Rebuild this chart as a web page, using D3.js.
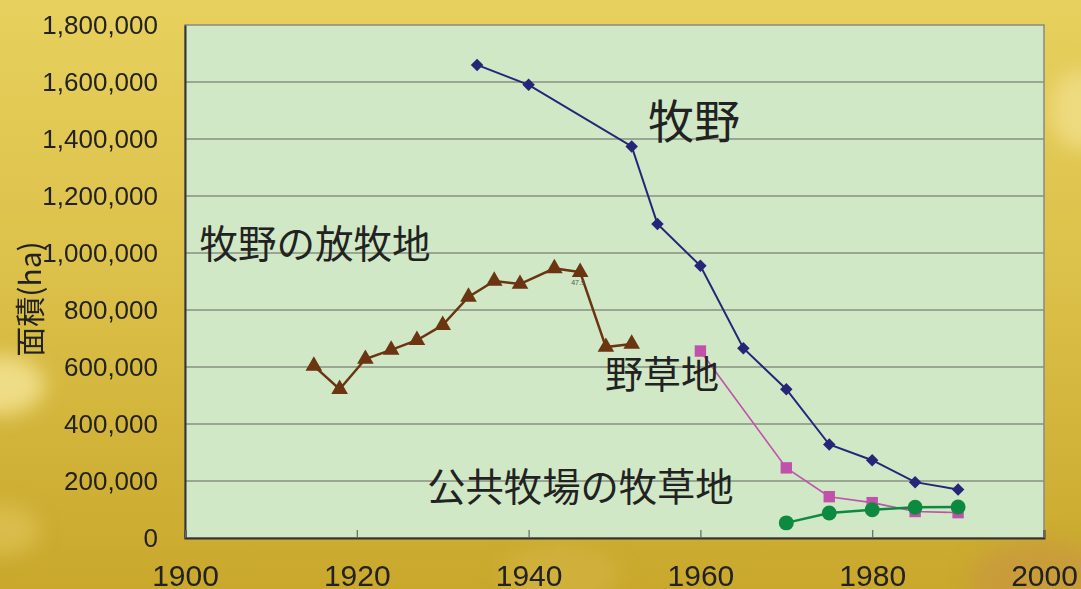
<!DOCTYPE html>
<html><head><meta charset="utf-8">
<script src="https://cdn.jsdelivr.net/npm/d3@7"></script>
<style>html,body{margin:0;padding:0;overflow:hidden;background:#d9bd45;}svg{display:block;}</style>
</head><body>
<script>
// ---- data ----
const yearsMakino = [1934, 1940, 1952, 1955, 1960, 1965, 1970, 1975, 1980, 1985, 1990];
const makino = [1660000, 1590000, 1374000, 1102000, 955000, 666000, 522000, 328000, 273000, 196000, 170000];
const yearsHoboku = [1915, 1918, 1921, 1924, 1927, 1930, 1933, 1936, 1939, 1943, 1946, 1949, 1952];
const hoboku = [604000, 522000, 628000, 660000, 694000, 747000, 846000, 902000, 891000, 946000, 933000, 670000, 681000];
const yearsYaso = [1960, 1970, 1975, 1980, 1985, 1990];
const yaso = [656000, 246000, 145000, 124000, 93000, 89000];
const yearsKokyo = [1970, 1975, 1980, 1985, 1990];
const kokyo = [53000, 88000, 99000, 108000, 109000];
const xTicks = [1900, 1920, 1940, 1960, 1980, 2000];
const yTicks = [0, 200000, 400000, 600000, 800000, 1000000, 1200000, 1400000, 1600000, 1800000];
const labels = [
  {text: "牧野", year: 1953.9, value: 1473000, size: 46},
  {text: "牧野の放牧地", year: 1901.7, value: 1043000, size: 38.5},
  {text: "野草地", year: 1948.9, value: 583000, size: 38},
  {text: "公共牧場の牧草地", year: 1928.2, value: 186000, size: 38.3}
];
const note = {text: "47.9", year: 1945.75, value: 888000};

// ---- layout ----
const W = 1081, H = 589;
const L = 185, R = 1044, T = 25, B = 538;
const svg = d3.select("body").append("svg").attr("width", W).attr("height", H);
const defs = svg.append("defs");
const g1 = defs.append("linearGradient").attr("id", "bg").attr("x1", 0).attr("y1", 0).attr("x2", 0).attr("y2", 1);
g1.append("stop").attr("offset", 0).attr("stop-color", "#e7d05d");
g1.append("stop").attr("offset", 0.45).attr("stop-color", "#dcc14a");
g1.append("stop").attr("offset", 1).attr("stop-color", "#c9a82c");
defs.append("filter").attr("id", "blur").append("feGaussianBlur").attr("stdDeviation", 10);

svg.append("rect").attr("width", W).attr("height", H).attr("fill", "url(#bg)");
const blobs = svg.append("g").attr("filter", "url(#blur)");
blobs.append("ellipse").attr("cx", 0).attr("cy", 385).attr("rx", 45).attr("ry", 30).attr("fill", "#f2e08e").attr("opacity", 0.9);
blobs.append("ellipse").attr("cx", 0).attr("cy", 530).attr("rx", 40).attr("ry", 25).attr("fill", "#dcc053").attr("opacity", 0.8);
blobs.append("ellipse").attr("cx", 1080).attr("cy", 110).attr("rx", 30).attr("ry", 40).attr("fill", "#f0dc84").attr("opacity", 0.9);
blobs.append("ellipse").attr("cx", 1040).attr("cy", 580).attr("rx", 70).attr("ry", 40).attr("fill", "#c9973f").attr("opacity", 0.7);
blobs.append("ellipse").attr("cx", 560).attr("cy", 575).attr("rx", 60).attr("ry", 30).attr("fill", "#d4b646").attr("opacity", 0.6);

const x = d3.scaleLinear().domain([1900, 2000]).range([L, R]);
const y = d3.scaleLinear().domain([0, 1800000]).range([B, T]);

// plot area
svg.append("rect").attr("x", L).attr("y", T).attr("width", R - L).attr("height", B - T)
  .attr("fill", "#d0e8c6").attr("stroke", "#8a8a80").attr("stroke-width", 1.5);

// gridlines
svg.append("g").selectAll("line").data(yTicks.filter(d => d > 0 && d < 1800000)).join("line")
  .attr("x1", L).attr("x2", R).attr("y1", d => y(d)).attr("y2", d => y(d))
  .attr("stroke", "#879080").attr("stroke-width", 1.5);

// y axis
const yAxis = svg.append("g").attr("transform", `translate(${L},0)`)
  .call(d3.axisLeft(y).tickValues(yTicks).tickSize(0).tickPadding(27).tickFormat(d3.format(",")));
yAxis.select(".domain").attr("stroke", "#333").attr("stroke-width", 2);
yAxis.selectAll("text").attr("font-family", "Liberation Sans, Arial, sans-serif").attr("font-size", 26).attr("fill", "#222");

// x axis
const xAxis = svg.append("g").attr("transform", `translate(0,${B})`)
  .call(d3.axisBottom(x).tickValues(xTicks).tickSize(-8).tickPadding(27).tickFormat(d3.format("d")));
xAxis.select(".domain").attr("stroke", "#333").attr("stroke-width", 2);
xAxis.selectAll(".tick line").attr("stroke", "#666").attr("stroke-width", 1.2);
xAxis.selectAll("text").attr("font-family", "Liberation Sans, Arial, sans-serif").attr("font-size", 30).attr("fill", "#222");

// y axis title
svg.append("text").attr("transform", "translate(28,299) rotate(-90)")
  .attr("text-anchor", "middle").attr("dominant-baseline", "central")
  .attr("font-family", "Noto Sans CJK JP, sans-serif").attr("font-size", 30).attr("fill", "#222")
  .text("面積(ha)");

// series
function series(years, vals, color, width, sym, size, rot) {
  const pts = years.map((yr, i) => [yr, vals[i]]);
  const line = d3.line().x(d => x(d[0])).y(d => y(d[1]));
  svg.append("path").datum(pts).attr("d", line).attr("fill", "none")
    .attr("stroke", color).attr("stroke-width", width);
  svg.append("g").selectAll("path").data(pts).join("path")
    .attr("transform", d => `translate(${x(d[0])},${y(d[1])}) rotate(${rot})`)
    .attr("d", d3.symbol().type(sym).size(size)).attr("fill", color);
}
series(yearsHoboku, hoboku, "#6a3510", 2.5, d3.symbolTriangle, 120, 0);
series(yearsYaso, yaso, "#c052aa", 1.6, d3.symbolSquare, 130, 0);
series(yearsMakino, makino, "#262678", 2, d3.symbolSquare, 78, 45);
series(yearsKokyo, kokyo, "#0e8a40", 2.5, d3.symbolCircle, 175, 0);

// small note
svg.append("text").attr("x", x(note.year)).attr("y", y(note.value))
  .attr("text-anchor", "middle").attr("font-family", "Liberation Sans, Arial, sans-serif")
  .attr("font-size", 7).attr("fill", "#555").text(note.text);

// annotations
svg.append("g").selectAll("text").data(labels).join("text")
  .attr("x", d => x(d.year)).attr("y", d => y(d.value))
  .attr("dominant-baseline", "central")
  .attr("font-family", "Noto Sans CJK JP, sans-serif").attr("font-size", d => d.size)
  .attr("fill", "#222").text(d => d.text);
</script>
</body></html>
